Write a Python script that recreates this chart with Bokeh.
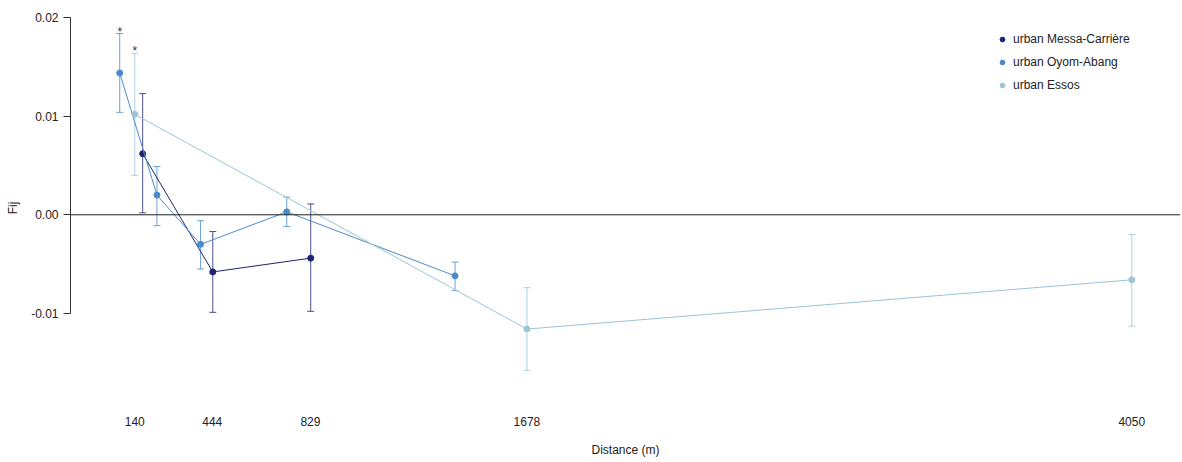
from bokeh.plotting import figure
from bokeh.models import (ColumnDataSource, Whisker, TeeHead, Span, FixedTicker,
                          Legend, LegendItem, Range1d)
from bokeh.core.properties import value
from bokeh.embed import file_html
from bokeh.resources import INLINE

# ---- data ----
series_names = ["urban Messa-Carrière", "urban Oyom-Abang", "urban Essos"]
series_colors = ["#1f2470", "#4a8bca", "#9cc5d5"]

messa_x = [171, 446, 830]
messa_y = [0.0062, -0.0058, -0.0044]
messa_lo = [0.0002, -0.0099, -0.0098]
messa_hi = [0.0123, -0.0017, 0.0011]

oyom_x = [81, 227, 398, 736, 1396]
oyom_y = [0.0144, 0.0020, -0.0030, 0.0003, -0.0062]
oyom_lo = [0.0104, -0.0011, -0.0055, -0.0012, -0.0077]
oyom_hi = [0.0184, 0.0049, -0.0006, 0.0018, -0.0048]

essos_x = [140, 1678, 4050]
essos_y = [0.0102, -0.0116, -0.0066]
essos_lo = [0.0040, -0.0158, -0.0113]
essos_hi = [0.0164, -0.0074, -0.0020]

# significance markers (per series, per point)
messa_sig = ["", "", ""]
oyom_sig = ["*", "", "", "", ""]
essos_sig = ["*", "", ""]

x_ticks = [140, 444, 829, 1678, 4050]
y_ticks = [-0.01, 0.0, 0.01, 0.02]
y_tick_labels = ["-0.01", "0.00", "0.01", "0.02"]

FONT = "Liberation Sans"

p = figure(width=1180, height=460, output_backend="svg", toolbar_location=None,
           x_range=Range1d(-112, 4241), y_range=Range1d(-0.01936, 0.02074),
           min_border_left=70, min_border_right=0, min_border_top=10, min_border_bottom=55)
p.outline_line_color = None
p.xgrid.visible = False
p.ygrid.visible = False
p.background_fill_color = "white"

# axes
p.xaxis.ticker = FixedTicker(ticks=x_ticks)
p.xaxis.axis_line_color = None
p.xaxis.major_tick_line_color = None
p.xaxis.minor_tick_line_color = None
p.xaxis.major_label_standoff = 5
p.xaxis.axis_label = "Distance (m)"
p.xaxis.axis_label_standoff = 14
p.xaxis.axis_label_text_font_style = "normal"

p.yaxis.ticker = FixedTicker(ticks=y_ticks)
p.yaxis.major_label_overrides = {t: l for t, l in zip(y_ticks, y_tick_labels)}
p.yaxis.bounds = (min(y_ticks), max(y_ticks))
p.yaxis.minor_tick_line_color = None
p.yaxis.major_tick_in = 0
p.yaxis.major_tick_out = 7
p.yaxis.major_label_standoff = 5
p.yaxis.axis_label = "Fij"
p.yaxis.axis_label_standoff = 8
p.yaxis.axis_label_text_font_style = "normal"
p.yaxis.axis_line_color = "#333333"
p.yaxis.major_tick_line_color = "#333333"

for ax in (p.xaxis, p.yaxis):
    ax.major_label_text_font = FONT
    ax.major_label_text_font_size = "12px"
    ax.major_label_text_color = "#222222"
    ax.axis_label_text_font = FONT
    ax.axis_label_text_font_size = "12px"
    ax.axis_label_text_color = "#222222"

p.add_layout(Span(location=0, dimension="width", line_color="#222222", line_width=1))

series = [
    (messa_x, messa_y, messa_lo, messa_hi, messa_sig),
    (oyom_x, oyom_y, oyom_lo, oyom_hi, oyom_sig),
    (essos_x, essos_y, essos_lo, essos_hi, essos_sig),
]

legend_items = []
for (xs, ys, lo, hi, sig), name, col in zip(series, series_names, series_colors):
    src = ColumnDataSource(dict(x=xs, y=ys, lo=lo, hi=hi, sig=sig))
    w = Whisker(base="x", lower="lo", upper="hi", source=src,
                line_color=col, line_alpha=0.8, line_width=1,
                upper_head=TeeHead(size=7, line_color=col, line_alpha=0.8, line_width=1),
                lower_head=TeeHead(size=7, line_color=col, line_alpha=0.8, line_width=1))
    p.add_layout(w)
    p.line("x", "y", source=src, line_color=col, line_width=1)
    r = p.scatter("x", "y", source=src, size=6, fill_color=col, line_color=col)
    p.text("x", "hi", text="sig", source=src, text_font=value(FONT), text_font_size="12px",
           text_align="center", text_baseline="alphabetic", y_offset=-2, text_color="#333333")
    legend_items.append(LegendItem(label=name, renderers=[r]))

legend = Legend(items=legend_items, location=(926, 310), padding=0, margin=0,
                glyph_width=12, glyph_height=20, label_height=20, spacing=3,
                label_standoff=5, border_line_color=None, background_fill_alpha=0,
                label_text_font=FONT, label_text_font_size="12px",
                label_text_color="#222222")
p.add_layout(legend)

open("out.html", "w").write(file_html(p, INLINE))
